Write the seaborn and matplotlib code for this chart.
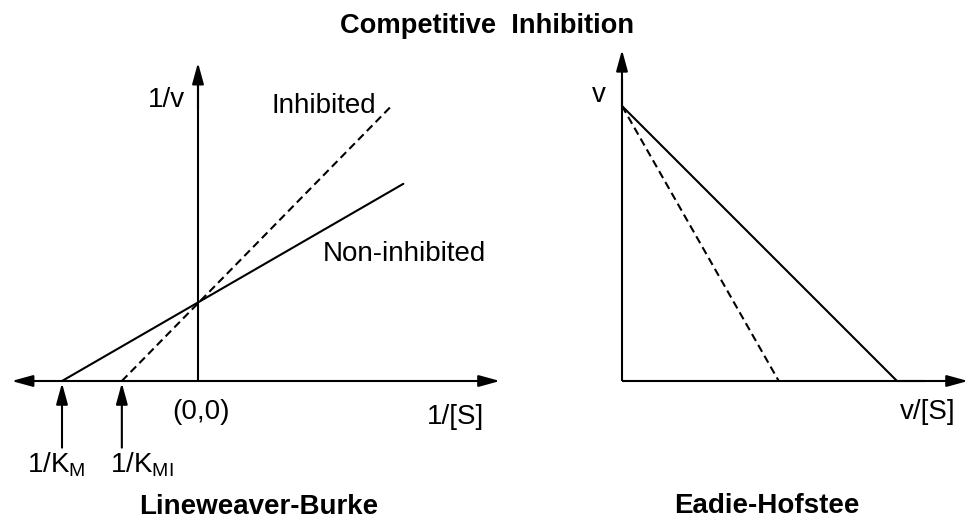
import matplotlib
matplotlib.use("Agg")
import matplotlib.pyplot as plt
import seaborn as sns

sns.set_theme(style="white")
plt.rcParams["font.family"] = ["Liberation Sans", "DejaVu Sans"]
plt.rcParams["text.color"] = "black"
plt.rcParams["mathtext.fontset"] = "custom"
plt.rcParams["mathtext.rm"] = "Liberation Sans"
plt.rcParams["mathtext.it"] = "Liberation Sans:italic"
plt.rcParams["mathtext.bf"] = "Liberation Sans:bold"

# Lineweaver-Burke (double reciprocal): 1/v against 1/[S]
lb_noninhibited_x = [-1.0, 1.51]
lb_noninhibited_y = [0.0, 1.45]
lb_inhibited_x = [-0.56, 1.42]
lb_inhibited_y = [0.0, 2.02]
lb_km_points = [-1.0, -0.56]
lb_km_labels = [r"1/K$_\mathrm{M}$", r"1/K$_\mathrm{MI}$"]

# Eadie-Hofstee: v against v/[S]
eh_noninhibited_x = [0.0, 1.0]
eh_noninhibited_y = [1.0, 0.0]
eh_inhibited_x = [0.0, 0.57]
eh_inhibited_y = [1.0, 0.0]

FS = 20
LW = 1.5
BLACK = "black"
DASH = (0, (3.8, 2.2))


def arrow(ax, tail, tip):
    ax.annotate(
        "", xy=tip, xytext=tail, xycoords="data", textcoords="data",
        arrowprops=dict(arrowstyle="-|>,head_length=0.8,head_width=0.22",
                        mutation_scale=16, lw=LW, color=BLACK,
                        shrinkA=0, shrinkB=0),
        annotation_clip=False,
    )


fig = plt.figure(figsize=(9.69, 5.21), dpi=100)
fig.patch.set_facecolor("white")

# ---- Lineweaver-Burke panel ----
ax1 = fig.add_axes([0, 0, 520 / 969, 1])
ax1.set_xlim(-198 / 136, (520 - 198) / 136)
ax1.set_ylim((381 - 521) / 136, 381 / 136)
ax1.axis("off")

# axes with arrowheads
arrow(ax1, (0, 0), (-1.37, 0))
arrow(ax1, (0, 0), (2.22, 0))
ax1.plot([0, 0], [0, 2.2], color=BLACK, lw=LW, solid_capstyle="butt")
arrow(ax1, (0, 2.0), (0, 2.34))

sns.lineplot(x=lb_noninhibited_x, y=lb_noninhibited_y, ax=ax1,
             color=BLACK, lw=LW, sort=False)
sns.lineplot(x=lb_inhibited_x, y=lb_inhibited_y, ax=ax1,
             color=BLACK, lw=LW, sort=False, dashes=False, linestyle=DASH)

for xk, lab, xl in zip(lb_km_points, lb_km_labels, [-1.257, -0.647]):
    arrow(ax1, (xk, -0.49), (xk, -0.015))
    ax1.text(xl, -0.676, lab, fontsize=FS, ha="left", va="baseline")

ax1.text(-0.096, 2.015, "1/v", fontsize=FS, ha="right", va="baseline")
ax1.text(0.537, 1.97, "Inhibited", fontsize=FS, ha="left", va="baseline")
ax1.text(0.919, 0.882, "Non-inhibited", fontsize=FS, ha="left", va="baseline")
ax1.text(-0.191, -0.279, "(0,0)", fontsize=FS, ha="left", va="baseline")
ax1.text(1.684, -0.316, "1/[S]", fontsize=FS, ha="left", va="baseline")
ax1.text(0.449, -0.978, "Lineweaver-Burke", fontsize=FS, fontweight="bold",
         ha="center", va="baseline")

# ---- Eadie-Hofstee panel ----
ax2 = fig.add_axes([520 / 969, 0, 449 / 969, 1])
ax2.set_xlim((520 - 622) / 275, (969 - 622) / 275)
ax2.set_ylim((381 - 521) / 275, 381 / 275)
ax2.axis("off")

ax2.plot([0, 1.1], [0, 0], color=BLACK, lw=LW, solid_capstyle="butt")
arrow(ax2, (1.0, 0), (1.258, 0))
ax2.plot([0, 0], [0, 1.1], color=BLACK, lw=LW, solid_capstyle="butt")
arrow(ax2, (0, 1.0), (0, 1.204))

sns.lineplot(x=eh_noninhibited_x, y=eh_noninhibited_y, ax=ax2,
             color=BLACK, lw=LW, sort=False)
sns.lineplot(x=eh_inhibited_x, y=eh_inhibited_y, ax=ax2,
             color=BLACK, lw=LW, sort=False, dashes=False, linestyle=DASH)

ax2.text(-0.109, 1.015, "v", fontsize=FS, ha="left", va="baseline")
ax2.text(1.011, -0.138, "v/[S]", fontsize=FS, ha="left", va="baseline")
ax2.text(0.527, -0.48, "Eadie-Hofstee", fontsize=FS, fontweight="bold",
         ha="center", va="baseline")

fig.text(487 / 969, 1 - 33 / 521, "Competitive  Inhibition", fontsize=19.6,
         fontweight="bold", ha="center", va="baseline")

fig.savefig("out.png", dpi=100, facecolor="white")
